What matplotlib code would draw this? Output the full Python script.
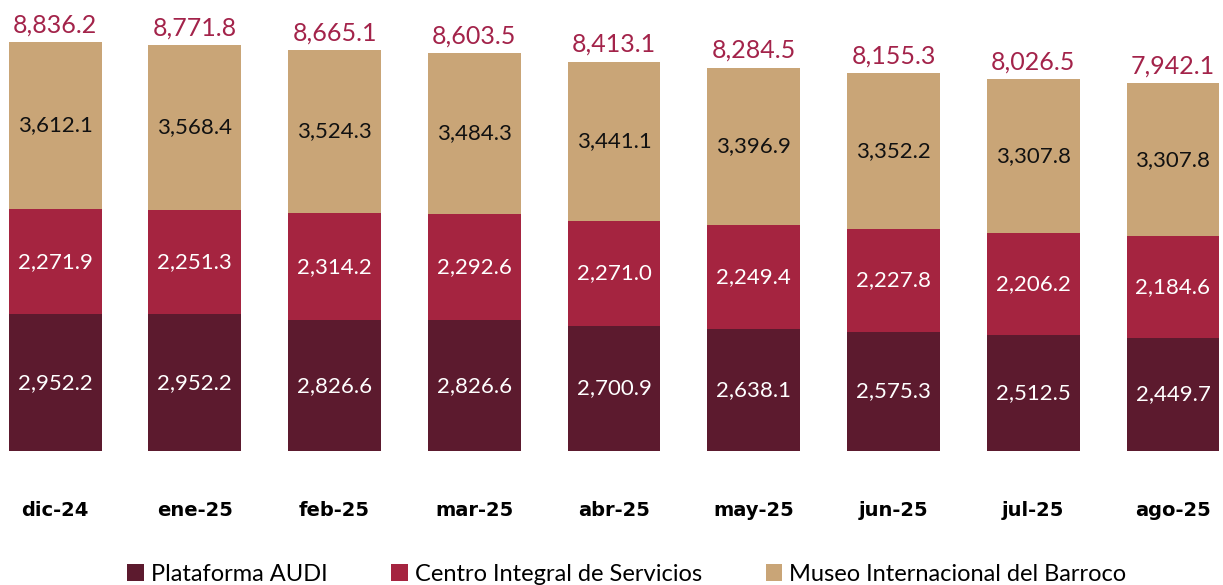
import matplotlib.pyplot as plt
import numpy as np

months = ['dic-24', 'ene-25', 'feb-25', 'mar-25', 'abr-25', 'may-25', 'jun-25', 'jul-25', 'ago-25']
audi = [2952.2, 2952.2, 2826.6, 2826.6, 2700.9, 2638.1, 2575.3, 2512.5, 2449.7]
centro = [2271.9, 2251.3, 2314.2, 2292.6, 2271.0, 2249.4, 2227.8, 2206.2, 2184.6]
museo = [3612.1, 3568.4, 3524.3, 3484.3, 3441.1, 3396.9, 3352.2, 3307.8, 3307.8]
totales = [8836.2, 8771.8, 8665.1, 8603.5, 8413.1, 8284.5, 8155.3, 8026.5, 7942.1]

series = [
    ('Plataforma AUDI', audi, '#5c1a2e', 'white'),
    ('Centro Integral de Servicios', centro, '#a52440', 'white'),
    ('Museo Internacional del Barroco', museo, '#c9a577', '#111111'),
]

plt.rcParams['font.family'] = ['Lato', 'DejaVu Sans']

fig = plt.figure(figsize=(12.23, 5.85), dpi=100)
ax = fig.add_axes([0, 0.229, 1, 0.771])

x = np.arange(len(months))
bottom = np.zeros(len(months))
for name, vals, color, tcolor in series:
    vals = np.array(vals)
    ax.bar(x, vals, 0.665, bottom=bottom, color=color, label=name)
    for xi, b, v in zip(x, bottom, vals):
        ax.text(xi, b + v / 2, f'{v:,.1f}', ha='center', va='center',
                fontsize=16, color=tcolor)
    bottom += vals

# totales arriba de cada barra
for xi, t in zip(x, totales):
    ax.text(xi, t + 120, f'{t:,.1f}', ha='center', va='bottom', fontsize=18, color='#a3234a')

ax.set_xlim(-0.394, 8.358)
ax.set_ylim(0, 9743)
ax.set_xticks(x)
ax.set_xticklabels(months, fontsize=14, fontweight='bold', family='DejaVu Sans')
ax.tick_params(axis='x', length=0, pad=36)
ax.set_yticks([])
for s in ax.spines.values():
    s.set_visible(False)

ax.legend(loc='upper left', bbox_to_anchor=(0.104, -0.25), ncol=3, frameon=False,
          fontsize=17, handlelength=0.7, handleheight=0.7, handletextpad=0.3,
          columnspacing=2.7, borderaxespad=0, borderpad=0)

fig.savefig('out.png', dpi=100)
